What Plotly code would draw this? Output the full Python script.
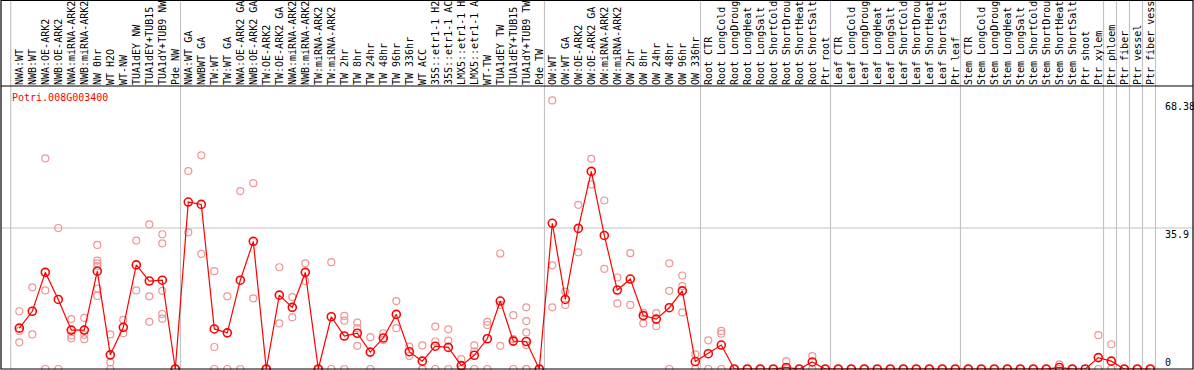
import plotly.graph_objects as go

categories = [
    "NWA:WT", "NWB:WT", "NWA:OE-ARK2", "NWB:OE-ARK2", "NWA:miRNA-ARK2", "NWB:miRNA-ARK2",
    "NW 0hr", "WT H2O", "WT-NW", "TUA1dEY NW", "TUA1dEY+TUB15", "TUA1dY+TUB9 NW", "Pde NW",
    "NWA:WT GA", "NWBWT GA", "TW:WT", "TW:WT GA", "NWA:OE-ARK2 GA", "NWB:OE-ARK2 GA",
    "TW:OE-ARK2", "TW:OE-ARK2 GA", "NWA:miRNA-ARK2", "NWB:miRNA-ARK2", "TW:miRNA-ARK2",
    "TW:miRNA-ARK2", "TW 2hr", "TW 8hr", "TW 24hr", "TW 48hr", "TW 96hr", "TW 336hr",
    "WT ACC", "35S::etr1-1 H2", "35S::etr1-1 AC", "LMX5::etr1-1 H", "LMX5::etr1-1 A",
    "WT-TW", "TUA1dEY TW", "TUA1dEY+TUB15", "TUA1dY+TUB9 TW", "Pde TW",
    "OW:WT", "OW:WT GA", "OW:OE-ARK2", "OW:OE-ARK2 GA", "OW:miRNA-ARK2", "OW:miRNA-ARK2",
    "OW 2hr", "OW 8hr", "OW 24hr", "OW 48hr", "OW 96hr", "OW 336hr",
    "Root CTR", "Root LongCold", "Root LongDroug", "Root LongHeat", "Root LongSalt",
    "Root ShortCold", "Root ShortDrou", "Root ShortHeat", "Root ShortSalt", "Ptr root",
    "Leaf CTR", "Leaf LongCold", "Leaf LongDroug", "Leaf LongHeat", "Leaf LongSalt",
    "Leaf ShortCold", "Leaf ShortDrou", "Leaf ShortHeat", "Leaf ShortSalt", "Ptr leaf",
    "Stem CTR", "Stem LongCold", "Stem LongDroug", "Stem LongHeat", "Stem LongSalt",
    "Stem ShortCold", "Stem ShortDrou", "Stem ShortHeat", "Stem ShortSalt", "Ptr shoot",
    "Ptr xylem", "Ptr phloem", "Ptr fiber", "Ptr vessel", "Ptr fiber vess",
]

means = [
    10.4, 14.7, 24.6, 17.7, 9.9, 9.9, 24.9, 3.6, 10.6, 26.5, 22.4, 22.6, 0,
    42.5, 41.9, 10.2, 9.2, 22.6, 32.5, 0, 18.8, 15.7, 24.6, 0, 13.3, 8.4, 9.1,
    4.3, 7.9, 13.9, 4.4, 2.0, 5.8, 5.5, 0.85, 3.5, 7.7, 17.3, 7.1, 7.0, 0,
    37.1, 17.7, 35.8, 50.3, 34.0, 20.1, 22.9, 13.6, 12.7, 15.6, 19.9, 1.9,
    3.9, 6.1, 0, 0, 0, 0, 0.4, 0, 1.8, 0,
    0, 0, 0, 0, 0, 0, 0, 0, 0, 0,
    0, 0, 0, 0, 0, 0, 0, 0.4, 0, 0,
    2.9, 2.0, 0, 0, 0,
]

replicates = [
    [14.7, 9.7, 6.8], [20.8, 8.8], [53.6, 20.0, 0], [35.9, 0], [12.7, 8.5, 7.8],
    [13.0, 8.7, 7.6], [31.6, 27.6, 26.9, 26.2, 20.5, 18.6], [8.8, 1.7, 0], [12.5, 9.1],
    [32.7, 20.0], [36.8, 18.5, 12.0], [34.3, 32.0, 19.9, 14.0, 12.8], [0],
    [50.4, 34.8], [54.4, 29.3], [24.9, 5.6, 0], [18.5, 0], [45.3, 0], [47.3, 18.0],
    [0], [25.9, 11.6], [18.3, 13.2], [26.9, 22.4], [0], [27.2, 0], [13.5, 12.3, 0],
    [11.8, 10.4, 5.9], [8.1, 0], [9.1, 7.4], [17.3, 10.4], [5.7, 3.3], [6.0, 0, 0],
    [10.8, 7.0, 0], [10.1, 7.2, 0], [2.5, 0, 0], [6.0, 4.5, 0], [12.0, 11.2, 0],
    [29.4, 16.3, 5.9], [13.7, 7.6, 0], [15.7, 12.2, 9.3, 6.1, 0, 0], [0],
    [68.38, 26.4, 15.7], [19.7, 16.3], [41.8, 29.7], [53.5, 47.0], [42.9, 25.5],
    [23.3, 16.7], [29.5, 16.3], [14.3, 11.6], [14.2, 10.9], [26.9, 19.9, 0],
    [23.8, 21.1, 14.4], [3.7, 0],
    [7.3, 0], [9.7, 9.0, 0], [0], [0], [0], [0], [2.0, 0], [0], [3.3, 0], [0],
    [0], [0], [0], [0], [0], [0], [0], [0], [0], [0],
    [0], [0], [0], [0], [0], [0], [0], [1.2, 0], [0], [0],
    [8.6, 0], [6.3, 0], [0], [0], [0],
]

gene_title = "Potri.008G003400"
y_label_values = [68.38, 35.9, 0]
y_label_texts = ["68.38", "35.9", "0"]
grid_value = 35.9
group_last_index = [12, 40, 52, 62, 72, 83, 84, 85, 86, 87]

# ---- layout geometry ----
W, H = 1194, 370
ML, MR, MT, MB = 1, 1, 86, 1
PW, PH = W - ML - MR, H - MT - MB
STEP = 13.0            # px per category
FIRST_PX = 19.3        # px of first category centre
PX_PER_UNIT = 3.928    # px per y unit
x0 = -(FIRST_PX - ML) / STEP
x1 = x0 + PW / STEP
ytop = PH / PX_PER_UNIT
paper_top = (H - MB) / PH  # paper y of image top

FONT = "DejaVu Sans Mono, Liberation Mono, monospace"

x_idx = list(range(len(categories)))
rep_x = [i for i, r in zip(x_idx, replicates) for _ in r]
rep_y = [v for r in replicates for v in r]

fig = go.Figure()
fig.add_trace(go.Scatter(
    x=rep_x, y=rep_y, mode="markers", hoverinfo="skip",
    marker=dict(symbol="circle-open", size=7, color="rgb(238,150,150)",
                line=dict(width=1.2)),
    cliponaxis=False,
))
fig.add_trace(go.Scatter(
    x=x_idx, y=means, mode="lines+markers",
    line=dict(color="#ff0000", width=1.2),
    marker=dict(symbol="circle-open", size=8, color="#ff0000", line=dict(width=1.6)),
    cliponaxis=False,
))

shapes = []
gray = "#c4c4c4"
# left group border and group separators
for xv in [-0.66] + [g + 0.4 for g in group_last_index]:
    shapes.append(dict(type="line", xref="x", yref="paper", x0=xv, x1=xv,
                       y0=0, y1=paper_top, line=dict(color=gray, width=1.2),
                       layer="below"))
# horizontal grid
shapes.append(dict(type="line", xref="paper", yref="y", x0=0, x1=1,
                   y0=grid_value, y1=grid_value, line=dict(color=gray, width=1.2),
                   layer="below"))
# frames
shapes.append(dict(type="rect", xref="paper", yref="paper", x0=0, x1=1,
                   y0=0, y1=paper_top - 0.5 / PH, line=dict(color="black", width=1.2)))
shapes.append(dict(type="line", xref="paper", yref="paper", x0=0, x1=1,
                   y0=1, y1=1, line=dict(color="black", width=1.2)))

annotations = [dict(
    text=gene_title, xref="paper", yref="paper",
    x=(9.5 - ML) / PW, y=(H - MB - 97) / PH, xanchor="left", yanchor="middle",
    showarrow=False, font=dict(family=FONT, size=10, color="#ff0000"),
)]
label_x = (1163.5 - ML) / PW
for v, t in zip(y_label_values, y_label_texts):
    annotations.append(dict(
        text=t, xref="paper", yref="y", x=label_x, y=v,
        xanchor="left", yanchor="bottom" if v == 0 else "top",
        showarrow=False, font=dict(family=FONT, size=10, color="black"),
        borderpad=0,
    ))

fig.update_layout(
    width=W, height=H,
    margin=dict(l=ML, r=MR, t=MT, b=MB, pad=0),
    paper_bgcolor="white", plot_bgcolor="white",
    showlegend=False,
    shapes=shapes, annotations=annotations,
    xaxis=dict(
        range=[x0, x1], side="top", tickmode="array", tickvals=x_idx,
        ticktext=categories, tickangle=-90, ticks="", showgrid=False,
        zeroline=False, showline=False, fixedrange=True,
        tickfont=dict(family=FONT, size=10, color="black"),
    ),
    yaxis=dict(
        range=[0, ytop], showticklabels=False, showgrid=False, zeroline=False,
        showline=False, fixedrange=True,
    ),
)

fig.write_html("out.html", config={"displayModeBar": False},
               post_script="document.body.style.margin='0';")
